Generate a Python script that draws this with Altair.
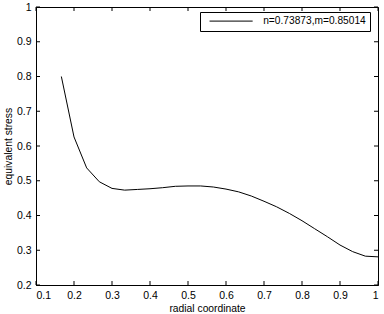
import altair as alt
import pandas as pd

# data
radial = [0.1667, 0.2, 0.2333, 0.2667, 0.3, 0.3333, 0.3667, 0.4, 0.4333, 0.4667,
          0.5, 0.5333, 0.5667, 0.6, 0.6333, 0.6667, 0.7, 0.7333, 0.7667, 0.8,
          0.8333, 0.8667, 0.9, 0.9333, 0.9667, 1.0]
stress = [0.800, 0.626, 0.537, 0.497, 0.478, 0.473, 0.475, 0.477, 0.480, 0.484,
          0.485, 0.485, 0.482, 0.476, 0.468, 0.456, 0.441, 0.425, 0.406, 0.385,
          0.362, 0.339, 0.315, 0.296, 0.283, 0.281]
series_name = "n=0.73873,m=0.85014"
x_ticks = [0.1, 0.2, 0.3, 0.4, 0.5, 0.6, 0.7, 0.8, 0.9, 1.0]
y_ticks = [0.2, 0.3, 0.4, 0.5, 0.6, 0.7, 0.8, 0.9, 1.0]

W, H = 342, 278
TL = 4
FONT = "Liberation Sans"

df = pd.DataFrame({"x": radial, "y": stress, "series": series_name})
xt = pd.DataFrame({"x": x_ticks})
yt = pd.DataFrame({"y": y_ticks})

xs = alt.Scale(domain=[0.1, 1.0], nice=False, zero=False)
ys = alt.Scale(domain=[0.2, 1.0], nice=False, zero=False)
xax = alt.Axis(values=x_ticks, format="~g", title="radial coordinate")
yax = alt.Axis(values=y_ticks, format="~g", title="equivalent stress")

X = alt.X("x:Q", scale=xs, axis=xax, title="radial coordinate")
Y = alt.Y("y:Q", scale=ys, axis=yax, title="equivalent stress")

line = alt.Chart(df).mark_line(color="black", strokeWidth=1).encode(
    x=X, y=Y,
    color=alt.Color("series:N", scale=alt.Scale(domain=[series_name], range=["black"]),
                    legend=alt.Legend(orient="none", legendX=164, legendY=5, title=None,
                                      symbolType="M-8,0H8", symbolSize=29,
                                      symbolStrokeWidth=1, symbolStrokeColor="black",
                                      symbolOffset=22, labelOffset=27,
                                      strokeColor="black", fillColor="white",
                                      padding=4, cornerRadius=0,
                                      labelFont=FONT, labelFontSize=10.2, labelColor="black")),
)

tick_b = alt.Chart(xt).mark_rule(color="black", strokeWidth=1).encode(
    x=X, y=alt.value(H), y2=alt.value(H - TL))
tick_t = alt.Chart(xt).mark_rule(color="black", strokeWidth=1).encode(
    x=X, y=alt.value(0), y2=alt.value(TL))
tick_l = alt.Chart(yt).mark_rule(color="black", strokeWidth=1).encode(
    y=Y, x=alt.value(0), x2=alt.value(TL))
tick_r = alt.Chart(yt).mark_rule(color="black", strokeWidth=1).encode(
    y=Y, x=alt.value(W - TL), x2=alt.value(W))

chart = alt.layer(line, tick_b, tick_t, tick_l, tick_r).properties(
    width=W, height=H,
    autosize=alt.AutoSizeParams(type="none"),
    padding={"left": 36, "top": 7, "right": 6, "bottom": 29},
    background="white",
).configure_view(stroke="black", strokeWidth=1).configure_axis(
    grid=False, domainColor="black", tickSize=0, labelPadding=5,
    labelFont=FONT, labelFontSize=10.5, labelColor="black",
    titleFont=FONT, titleFontSize=10.3, titleColor="black", titleFontWeight="normal",
).configure_axisX(titlePadding=3).configure_axisY(titlePadding=3)

chart.save("out.html", embed_options={"renderer": "svg", "actions": False})
